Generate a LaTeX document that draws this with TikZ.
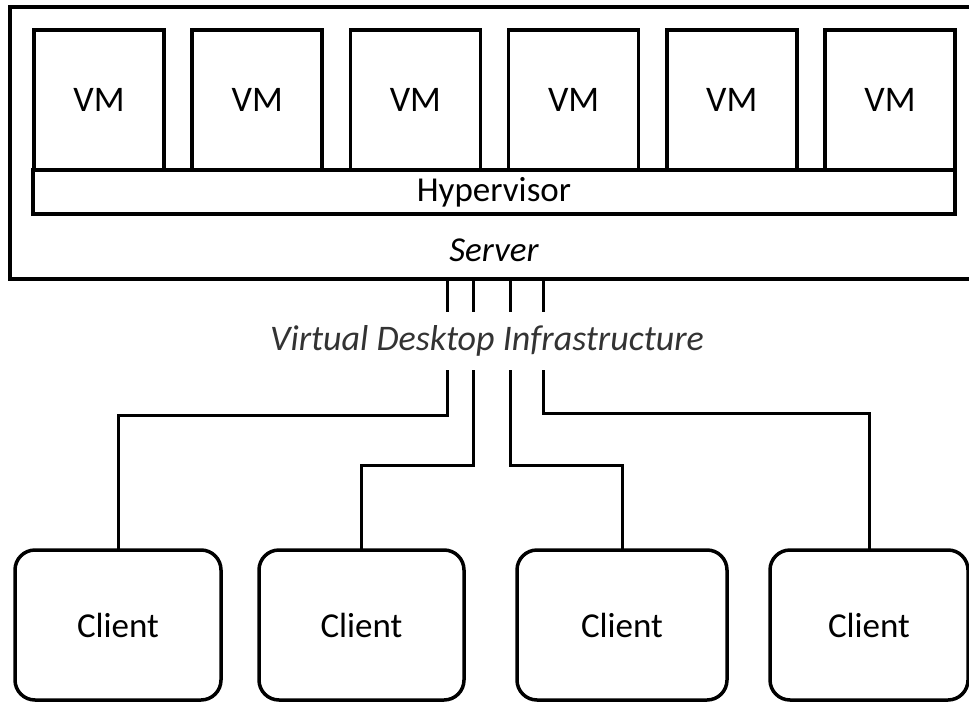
\documentclass[tikz,border=0pt]{standalone}
\usepackage{fontspec}
\setmainfont{Carlito}
\usetikzlibrary{arrows}

\begin{document}
\begin{tikzpicture}[x=1pt,y=-1pt,
	box/.style={draw,line width=3.5pt,inner sep=0pt,outer sep=0pt},
	client/.style={box,rounded corners=20pt,minimum height=150pt,font=\fontsize{35}{40}\selectfont},
	link/.style={line width=3pt}]
	\useasboundingbox (0,0) rectangle (969,704);
	\node[box,line width=4.5pt,minimum width=975pt,minimum height=272pt] (server) at (497.5,143) {};
	\foreach \i in {0,...,5}
	\node[box,minimum width=130pt,minimum height=140pt,font=\fontsize{36}{40}\selectfont] (vm\i) at (99+158.2*\i,100) {VM};
	\node[box,minimum width=922pt,minimum height=44pt,font=\fontsize{35}{38}\selectfont] (hyp) at (494,192) {Hypervisor};
	\node[font=\fontsize{35}{38}\selectfont\itshape] (srvlabel) at (494,250) {Server};
	\node[client,minimum width=206pt] (c1) at (118,625) {Client};
	\node[client,minimum width=205pt] (c2) at (361.5,625) {Client};
	\node[client,minimum width=210pt] (c3) at (622,625) {Client};
	\node[client,minimum width=198pt] (c4) at (869,625) {Client};
	\coordinate (s1) at (447,279);
	\coordinate (s2) at (473,279);
	\coordinate (s3) at (510,279);
	\coordinate (s4) at (543,279);
	\draw[link] (s1) -- ++(0,136) -| (c1.north);
	\draw[link] (s2) -- ++(0,186) -| (c2.north);
	\draw[link] (s3) -- ++(0,186) -| (c3.north);
	\draw[link] (s4) -- ++(0,134) -| (c4.north);
	\node[fill=white,minimum height=58pt,inner ysep=0pt,inner xsep=3pt,text=black!80,font=\fontsize{36}{40}\selectfont\itshape] (vdi) at (487,341) {\raisebox{-4pt}{Virtual Desktop Infrastructure}};
\end{tikzpicture}
\end{document}
